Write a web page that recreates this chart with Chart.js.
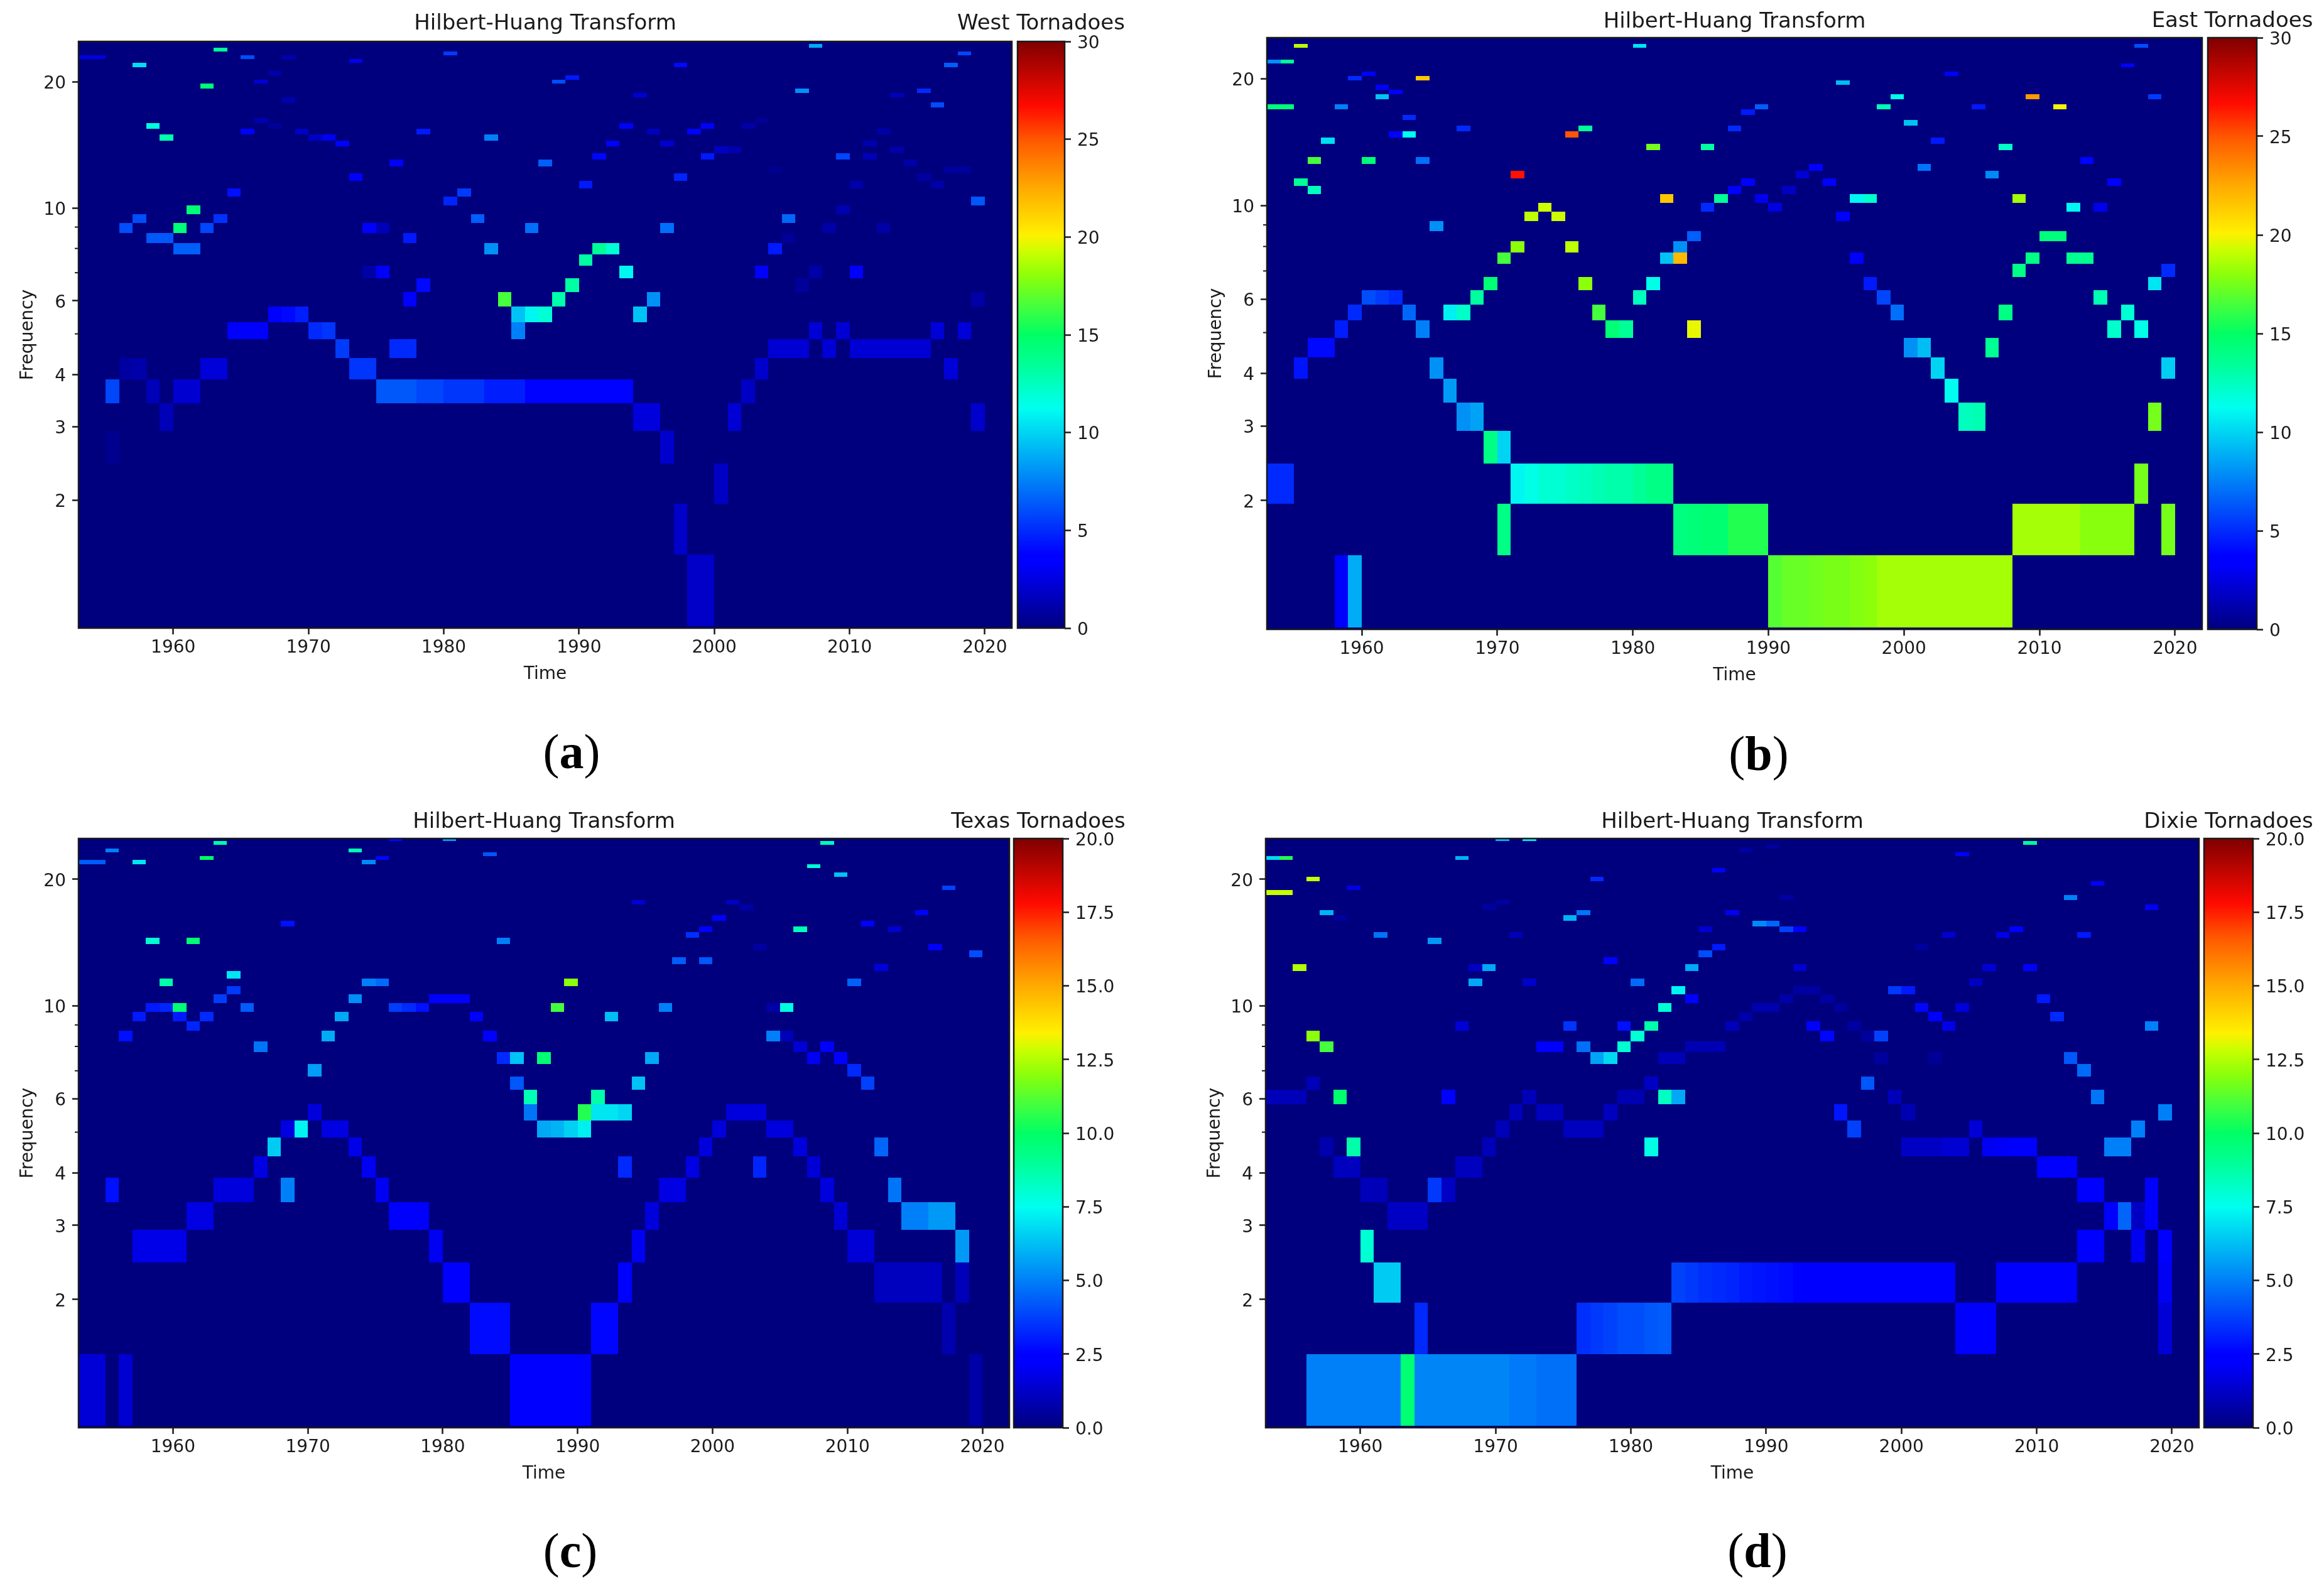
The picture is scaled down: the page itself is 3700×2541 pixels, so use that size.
<!DOCTYPE html>
<html>
<head>
<meta charset="utf-8">
<title>Hilbert-Huang Transform</title>
<script src="https://cdn.jsdelivr.net/npm/chart.js@4"></script>
<style>
    html, body { margin: 0; padding: 0; background: #fff; overflow: hidden; width: 3700px; height: 2541px; }
    canvas { position: absolute; }
    .cap { position: absolute; font-family: "Liberation Serif", serif; font-size: 78px; line-height: 78px; color: #000; transform: translate(-50%, -50%); }
</style>
</head>
<body>
<script>
// frequency bin edges, a row number in the cell lists points into this
const freqEdges = [1, 1.482, 1.964, 2.446, 2.928, 3.41, 3.892, 4.374, 4.856, 5.338, 5.82, 6.302, 6.784, 7.266, 7.748, 8.23, 8.712, 9.194, 9.676, 10.158, 10.64, 11.122, 11.604, 12.086, 12.568, 13.05, 13.532, 14.014, 14.496, 14.978, 15.46, 15.942, 16.424, 16.906, 17.388, 17.87, 18.352, 18.834, 19.316, 19.798, 20.28, 20.762, 21.244, 21.726, 22.208, 22.69, 23.172, 23.654, 24.136, 24.618, 25.1];
const yearTicks = [1960, 1970, 1980, 1990, 2000, 2010, 2020];
const freqTicks = [2, 3, 4, 6, 10, 20];
const freqMinorTicks = [5, 7, 8, 9];
const barTicks30 = [0, 5, 10, 15, 20, 25, 30];
const barTicks20 = [0, 2.5, 5, 7.5, 10, 12.5, 15, 17.5, 20];

// cells: [row, first year, end year, value]
const westCells = [
    [47,1963,1964,13.5],[48,2007,2008,8.8],[46,1980,1981,5.5],[46,2018,2019,5.8],[45,1953,1955,2.5],[45,1965,1966,6],[45,1968,1969,1.3],
    [44,1973,1974,3],[43,1957,1958,10.3],[43,1997,1998,4],[43,2017,2018,6.5],[41,1967,1968,1.2],[40,1989,1990,4.5],[39,1966,1967,2.2],[39,1988,1989,6],
    [38,1962,1963,14.5],[37,2006,2007,8],[37,2015,2016,5],[36,1994,1995,2.2],[36,2013,2014,1.5],[35,1968,1969,1.3],[34,2016,2017,6],
    [31,1966,1967,1.3],[31,2003,2004,.6],[30,1958,1959,11.8],[30,1967,1968,.7],[30,1993,1994,3.6],[30,1999,2000,3.4],[30,2002,2003,1],
    [29,1965,1966,3.5],[29,1969,1970,1.8],[29,1978,1979,4.5],[29,1995,1996,1.6],[29,1998,1999,3.6],[29,2012,2013,1.1],
    [28,1959,1960,13],[28,1970,1971,1.8],[28,1971,1972,3],[28,1983,1984,7.5],[27,1972,1973,3.5],[27,1992,1993,3.6],[27,1996,1997,2],[27,2011,2012,1.3],
    [26,2000,2001,1.8],[26,2001,2002,1.2],[26,2013,2014,1],[25,1991,1992,3.9],[25,1999,2000,4.5],[25,2009,2010,5.8],[25,2011,2012,1.5],
    [24,1976,1977,3.2],[24,1987,1988,6.5],[24,2014,2015,1],[23,2004,2005,.4],[23,2017,2019,.8],[22,1973,1974,3.4],[22,1997,1998,4.8],[22,2015,2016,.9],
    [21,1990,1991,4.5],[21,2010,2011,1.1],[21,2016,2017,1],[20,1964,1965,4.2],[20,1981,1982,5.5],[19,1980,1981,4.8],[19,2019,2020,6.3],
    [18,1961,1962,14.5],[18,2009,2010,1.3],[17,1957,1958,6],[17,1963,1964,5.2],[17,1982,1983,6.5],[17,2005,2006,6.8],
    [16,1956,1957,6],[16,1960,1961,14.5],[16,1962,1963,5.8],[16,1974,1975,3.5],[16,1975,1976,1.5],[16,1986,1987,7],[16,1996,1997,7],[16,2008,2009,1],[16,2012,2013,1],
    [15,1958,1960,6.3],[15,1977,1978,4.5],[15,2005,2006,.6],[14,1960,1962,6.5],[14,1983,1984,8],[14,1991,1992,13.5],[14,1992,1993,12],[14,2004,2005,4.5],
    [13,1990,1991,13.2],[12,1974,1975,1],[12,1975,1976,3.5],[12,1993,1994,11],[12,2003,2004,3.3],[12,2007,2008,1],[12,2010,2011,3.3],
    [11,1978,1979,4],[11,1989,1990,13.2],[11,2006,2007,.7],[10,1977,1978,3.3],[10,1984,1985,16.5],[10,1988,1989,13],[10,1995,1996,8],[10,2019,2020,1],
    [9,1967,1968,3.5],[9,1968,1969,4],[9,1969,1970,4.6],[9,1985,1986,9.5],[9,1986,1987,11],[9,1987,1988,12],[9,1994,1995,9.5],
    [8,1964,1967,3.4],[8,1970,1971,5],[8,1971,1972,5.3],[8,1985,1986,7.5],[8,2007,2008,2.2],[8,2009,2010,2.2],[8,2016,2017,2.3],[8,2018,2019,2.3],
    [7,1972,1973,5.5],[7,1976,1978,5],[7,2004,2007,2.2],[7,2008,2009,2.2],[7,2010,2016,2.2],
    [6,1956,1957,.9],[6,1957,1958,1.1],[6,1962,1964,2.3],[6,1973,1975,5.3],[6,2003,2004,2],[6,2017,2018,2.3],
    [5,1955,1956,5.8],[5,1958,1959,1.5],[5,1960,1962,2.1],[5,1975,1978,6.3],[5,1978,1980,5.8],[5,1980,1983,5.3],[5,1983,1986,4.6],[5,1986,1994,3.8],[5,2002,2003,1.8],
    [4,1959,1960,1.5],[4,1994,1996,2.4],[4,2001,2002,2.2],[4,2019,2020,2],[3,1955,1956,.4],[3,1996,1997,2],[2,2000,2001,1.8],[1,1997,1998,1.9],[0,1998,2000,1.9]
];
const eastCells = [
    [47,1955,1956,19],[47,1980,1981,10.5],[47,2017,2018,6],[43,1953,1954,8],[43,1954,1955,13.5],[42,2016,2017,3.8],[40,1960,1961,3.5],[40,2003,2004,3.6],
    [39,1959,1960,5],[39,1964,1965,21.5],[38,1995,1996,9.3],[37,1961,1962,3.3],[36,1962,1963,3.5],[35,1961,1962,9.5],[35,1999,2000,11.5],[35,2009,2010,23],[35,2018,2019,5.5],
    [33,1953,1955,14.5],[33,1958,1959,7.5],[33,1989,1990,6.5],[33,1998,1999,12.8],[33,2005,2006,4.5],[33,2011,2012,20],[32,1988,1989,4.5],
    [31,1963,1964,5],[30,2000,2001,9.5],[29,1967,1968,5],[29,1976,1977,13.5],[29,1987,1988,5],[28,1962,1963,3.5],[28,1963,1964,11.3],[28,1975,1976,25],
    [27,1957,1958,10.3],[27,2002,2003,4.5],[26,1981,1982,17.5],[26,1985,1986,13.3],[26,2007,2008,12.3],[24,1956,1957,16.5],[24,1960,1961,14.5],[24,1964,1965,7],[24,2013,2014,3.8],
    [23,1993,1994,3.3],[23,2001,2002,7.2],[22,1971,1972,26.5],[22,1992,1993,2.2],[22,2006,2007,7.8],[21,1955,1956,13.5],[21,1988,1989,3.5],[21,1994,1995,3.5],[21,2015,2016,3.5],
    [20,1956,1957,12.5],[20,1987,1988,3.5],[20,1991,1992,1.8],[19,1982,1983,21.5],[19,1986,1987,13.5],[19,1989,1990,2.8],[19,1996,1997,11],[19,1997,1998,12.2],[19,2008,2009,18.5],
    [18,1973,1974,19.3],[18,1985,1986,5],[18,1990,1991,2.5],[18,2012,2013,11],[18,2014,2015,2.8],[17,1972,1973,19],[17,1974,1975,19.3],[17,1995,1996,3.5],
    [16,1965,1966,8],[15,1984,1985,6.5],[15,2010,2012,14.3],[14,1971,1972,18],[14,1975,1976,19],[14,1983,1984,8],
    [13,1970,1971,16.5],[13,1982,1983,9.5],[13,1983,1984,22],[13,1996,1997,3.5],[13,2009,2010,14],[13,2012,2014,13.7],[12,2008,2009,14],[12,2019,2020,5],
    [11,1969,1970,14.5],[11,1976,1977,18],[11,1981,1982,11.5],[11,1997,1998,4.5],[11,2018,2019,10.5],
    [10,1960,1961,6],[10,1961,1962,5.5],[10,1962,1963,5],[10,1968,1969,13.3],[10,1980,1981,12.5],[10,1998,1999,5.8],[10,2014,2015,12.8],
    [9,1959,1960,5],[9,1963,1964,6.8],[9,1966,1967,10.8],[9,1967,1968,12.3],[9,1977,1978,16.5],[9,1999,2000,7],[9,2007,2008,14],[9,2016,2017,12],
    [8,1958,1959,4.6],[8,1964,1965,7.5],[8,1978,1979,14.5],[8,1979,1980,13.5],[8,1984,1985,19.7],[8,2015,2016,12.2],[8,2017,2018,11.5],
    [7,1956,1958,4],[7,2000,2001,8],[7,2001,2002,9.3],[7,2006,2007,13.6],[6,1955,1956,4.3],[6,1965,1966,8],[6,2002,2003,10],[6,2019,2020,9.8],
    [5,1966,1967,8.3],[5,2003,2004,11.2],[4,1967,1968,8],[4,1968,1969,8.5],[4,2004,2005,12.5],[4,2005,2006,12.8],[4,2018,2019,17.5],[3,1969,1970,14],[3,1970,1971,10],
    [2,1953,1955,5],[2,1971,1972,11],[2,1972,1973,11.5],[2,1973,1975,12],[2,1975,1976,12.3],[2,1976,1977,12.5],[2,1977,1978,12.8],[2,1978,1980,13],[2,1980,1981,13.5],[2,1981,1983,14],[2,2017,2018,17.5],
    [1,1970,1971,14],[1,1983,1984,14.2],[1,1984,1985,14.4],[1,1985,1987,14.6],[1,1987,1990,15.7],[1,2008,2013,18.5],[1,2013,2017,17.9],[1,2019,2020,17.5],
    [0,1958,1959,3.4],[0,1959,1960,8.8],[0,1990,1991,16.8],[0,1991,1993,17.2],[0,1993,1994,17.4],[0,1994,1996,17.6],[0,1996,1997,17.8],[0,1997,1998,18],[0,1998,2008,18.5]
];
const texasCells = [
    [49,1976,1977,2.6],[49,1980,1981,5.5],[48,1963,1964,8.7],[48,2008,2009,8.5],[46,1955,1956,5],[46,1973,1974,8.5],[45,1983,1984,4.2],[44,1962,1963,10],[44,1975,1976,2.6],
    [43,1953,1955,4.3],[43,1957,1958,7],[43,1974,1975,5.2],[42,2007,2008,8],[40,2009,2010,6.3],[37,2017,2018,3.8],[34,1994,1995,1.5],[34,2001,2002,1.2],[33,2002,2003,.7],[32,2015,2016,2.4],
    [31,2000,2001,2.3],[30,1968,1969,2.8],[30,2011,2012,2.4],[29,1999,2000,2.5],[29,2006,2007,8.5],[29,2013,2014,1.4],[28,1998,1999,3.4],
    [27,1958,1959,8],[27,1961,1962,9.7],[27,1984,1985,5],[26,2003,2004,.6],[26,2016,2017,2.4],[25,2019,2020,4],[24,1997,1998,4.3],[24,1999,2000,4.2],[23,2012,2013,1.6],
    [22,1964,1965,7],[21,1959,1960,8.7],[21,1974,1975,5],[21,1975,1976,4.6],[21,1989,1990,12],[21,2010,2011,4.4],[20,1964,1965,3.6],[19,1963,1964,3.7],[19,1973,1974,5.3],[19,1979,1982,2.4],
    [18,1958,1959,3],[18,1959,1960,3.2],[18,1960,1961,9.7],[18,1965,1966,4.3],[18,1976,1977,3.7],[18,1977,1978,3.3],[18,1978,1979,2.8],[18,1988,1989,11],[18,1996,1997,5],[18,2004,2005,.7],[18,2005,2006,7.8],
    [17,1957,1958,3],[17,1960,1961,3],[17,1962,1963,3.3],[17,1972,1973,5.8],[17,1982,1983,2.5],[17,1992,1993,6.2],[16,1961,1962,3.2],
    [15,1956,1957,2.8],[15,1971,1972,5.9],[15,1983,1984,2.5],[15,2004,2005,5],[15,2005,2006,1],[14,1966,1967,4.8],[14,2006,2007,1.5],[14,2008,2009,2.3],
    [13,1984,1985,3.3],[13,1985,1986,6.3],[13,1987,1988,9.7],[13,1995,1996,5.8],[13,2007,2008,2],[13,2009,2010,2.5],[12,1970,1971,5.6],[12,2010,2011,3.3],
    [11,1985,1986,4.2],[11,1994,1995,6.3],[11,2011,2012,3.8],[10,1986,1987,8.5],[10,1991,1992,8.7],
    [9,1970,1971,1.6],[9,1986,1987,4.8],[9,1990,1991,10.5],[9,1991,1993,7],[9,1993,1994,6.7],[9,2001,2004,1.6],
    [8,1968,1969,1.7],[8,1969,1970,7.3],[8,1971,1973,1.7],[8,1987,1988,5.8],[8,1988,1989,6],[8,1989,1990,6.6],[8,1990,1991,7.2],[8,2000,2001,1.6],[8,2004,2006,1.6],
    [7,1967,1968,6.5],[7,1973,1974,1.8],[7,1999,2000,1.6],[7,2006,2007,1.6],[7,2012,2013,4.5],[6,1966,1967,1.7],[6,1974,1975,2],[6,1993,1994,3.3],[6,1998,1999,1.7],[6,2003,2004,3.2],[6,2007,2008,1.5],
    [5,1955,1956,2.8],[5,1963,1966,1.6],[5,1968,1969,5],[5,1975,1976,2],[5,1996,1998,1.7],[5,2008,2009,1.6],[5,2013,2014,4.8],
    [4,1961,1963,1.7],[4,1976,1979,2.5],[4,1995,1996,1.6],[4,2009,2010,1.5],[4,2014,2016,5],[4,2016,2018,5.5],
    [3,1957,1961,1.8],[3,1979,1980,2],[3,1994,1995,2],[3,2010,2012,1.5],[3,2018,2019,5.5],[2,1980,1982,2.5],[2,1993,1994,2.3],[2,2012,2017,1.1],[2,2018,2019,1],
    [1,1982,1985,2.7],[1,1991,1993,2.6],[1,2017,2018,.8],[0,1953,1955,1.5],[0,1956,1957,1.4],[0,1985,1991,2.3],[0,2019,2020,.7]
];
const dixieCells = [
    [49,1970,1971,6],[49,1972,1973,7],[48,2009,2010,9],[47,1990,1991,.6],[46,1988,1989,.7],[45,2004,2005,2.3],[44,1953,1954,6.8],[44,1954,1955,10.5],[44,1967,1968,6],
    [41,1986,1987,2.5],[39,1956,1957,12.8],[39,1977,1978,3.3],[38,2014,2015,2.4],[37,1959,1960,1.8],[36,1953,1955,12.8],[35,1991,1992,.6],[35,2012,2013,5],[34,1970,1971,.6],[33,1969,1970,.6],[33,2018,2019,2],
    [32,1957,1958,6],[32,1976,1977,4.8],[32,1987,1988,2],[31,1958,1959,.5],[31,1975,1976,6],[30,1989,1990,5.2],[30,1990,1991,4.5],[29,1985,1986,1.4],[29,1991,1992,3.8],[29,1992,1993,2.5],[29,2008,2009,2.4],
    [28,1961,1962,4.8],[28,1971,1972,1],[28,2003,2004,1.4],[28,2007,2008,1.8],[28,2013,2014,3],[27,1965,1966,5.5],[26,1986,1987,3],[26,2001,2002,.5],[25,1985,1986,4],
    [24,1978,1979,2.4],[23,1955,1956,12.5],[23,1968,1969,1.2],[23,1969,1970,5.8],[23,1984,1985,5.8],[23,1992,1993,1.4],[23,2006,2007,1.5],[23,2009,2010,2.5],
    [21,1968,1969,5.8],[21,1972,1973,1.3],[21,1980,1981,4.6],[21,2005,2006,1.2],[20,1983,1984,7.3],[20,1992,1994,.6],[20,1999,2000,3.6],[20,2000,2001,3],
    [19,1984,1985,2.4],[19,1991,1992,.7],[19,1994,1995,.6],[19,2010,2011,3],[18,1982,1983,8],[18,1989,1991,.8],[18,1995,1996,.5],[18,2001,2002,2.6],[18,2004,2005,1.6],
    [17,1988,1989,.7],[17,2002,2003,2.5],[17,2011,2012,3.3],[16,1967,1968,1.5],[16,1975,1976,3.5],[16,1979,1980,2.8],[16,1981,1982,8.7],[16,1987,1988,1],[16,1993,1994,2.4],[16,1996,1997,.6],[16,2003,2004,1.8],[16,2018,2019,5],
    [15,1956,1957,12],[15,1980,1981,8],[15,1994,1995,2.6],[15,1997,1998,.5],[15,1998,1999,3.8],[14,1957,1958,11],[14,1973,1975,2.3],[14,1976,1977,4.7],[14,1979,1980,8],[14,1984,1987,.9],
    [13,1977,1978,5.7],[13,1978,1979,6.8],[13,1982,1984,1],[13,1998,1999,.5],[13,2002,2003,.4],[13,2012,2013,4.2],[12,2013,2014,4.6],[11,1956,1957,1],[11,1981,1982,1.2],[11,1997,1998,4.2],
    [10,1953,1956,1],[10,1958,1959,9.8],[10,1966,1967,2.2],[10,1972,1973,1],[10,1979,1981,.9],[10,1982,1983,8.3],[10,1983,1984,5.8],[10,1999,2000,1],[10,2014,2015,4.8],
    [9,1971,1972,1],[9,1973,1975,1.1],[9,1978,1979,1.1],[9,1995,1996,2.9],[9,2000,2001,.9],[9,2019,2020,5],[8,1970,1971,1],[8,1975,1978,1.1],[8,1996,1997,3.8],[8,2005,2006,1.5],[8,2017,2018,5],
    [7,1957,1958,.8],[7,1959,1960,8.7],[7,1969,1970,1],[7,1981,1982,7.7],[7,2000,2003,1.2],[7,2003,2005,1.4],[7,2006,2007,2],[7,2007,2008,2.1],[7,2008,2009,2.3],[7,2009,2010,2.4],[7,2015,2017,5],
    [6,1958,1960,1.1],[6,1967,1969,1.1],[6,2010,2013,2.4],[5,1960,1962,1],[5,1965,1966,3.6],[5,1966,1967,1.2],[5,2013,2015,2.3],[5,2018,2019,2.3],
    [4,1962,1965,1.2],[4,2015,2016,2.3],[4,2016,2017,4.5],[4,2017,2018,1.2],[4,2018,2019,2.2],[3,1960,1961,8],[3,2013,2015,2.3],[3,2017,2018,2],[3,2019,2020,2.2],
    [2,1961,1963,6.5],[2,1983,1984,3.8],[2,1984,1985,3.6],[2,1985,1986,3.4],[2,1986,1987,3.3],[2,1987,1988,3.2],[2,1988,1989,3],[2,1989,1990,2.9],[2,1990,1991,2.8],[2,1991,1992,2.7],[2,1992,2004,2.4],[2,2007,2013,2.5],[2,2019,2020,2],
    [1,1964,1965,3.3],[1,1976,1977,3.4],[1,1977,1978,3.6],[1,1978,1979,3.8],[1,1979,1981,4],[1,1981,1982,4.2],[1,1982,1983,4.3],[1,2004,2007,2.5],[1,2019,2020,1.5],
    [0,1956,1963,5],[0,1963,1964,9.7],[0,1964,1971,5.1],[0,1971,1973,4.9],[0,1973,1976,4.7]
];

// jet as it looks in the picture, a bit more saturated than the stock one
const jetStops = [
    [0, 0, 0, 127], [.11, 0, 0, 255], [.125, 0, 0, 255], [.375, 0, 255, 240], [.45, 0, 255, 150], [.5, 0, 255, 100],
    [.55, 70, 255, 60], [.6, 140, 255, 10], [.64, 200, 255, 0], [.67, 255, 240, 0], [.75, 255, 170, 0], [.83, 255, 90, 0], [.89, 255, 10, 0], [1, 127, 0, 0]
];

function jetColor(t) {
    t = Math.min(1, Math.max(0, t));
    for (let i = 1; i < jetStops.length; i++) {
        const a = jetStops[i - 1], b = jetStops[i];
        if (t <= b[0]) {
            const k = (t - a[0]) / (b[0] - a[0]);
            return `rgb(${a[1] + (b[1] - a[1]) * k}, ${a[2] + (b[2] - a[2]) * k}, ${a[3] + (b[3] - a[3]) * k})`;
        }
    }
    return 'rgb(127, 0, 0)';
}

const inkColor = '#1a1a1a';
const fontFamily = '"DejaVu Sans", sans-serif';

// fills the plot and draws each cell through the scales
const heatCells = {
    id: 'heatCells',
    beforeDatasetsDraw(chart, args, opts) {
        const { ctx, chartArea: area, scales } = chart;
        ctx.save();
        ctx.beginPath();
        ctx.rect(area.left, area.top, area.width, area.height);
        ctx.clip();
        ctx.fillStyle = jetColor(0);
        ctx.fillRect(area.left, area.top, area.width, area.height);
        chart.data.datasets[0].data.forEach(c => {
            const x0 = Math.round(scales.x.getPixelForValue(c.x));
            const x1 = Math.round(scales.x.getPixelForValue(c.x2));
            const y0 = Math.round(scales.y.getPixelForValue(c.y2));
            const y1 = Math.round(scales.y.getPixelForValue(c.y));
            ctx.fillStyle = jetColor(c.v / opts.vmax);
            ctx.fillRect(x0, y0, x1 - x0, y1 - y0);
        });
        ctx.restore();
    }
};

// colour bar gradient, stops placed by the value scale
const barGradient = {
    id: 'barGradient',
    beforeDatasetsDraw(chart, args, opts) {
        const { ctx, chartArea: area, scales } = chart;
        const grad = ctx.createLinearGradient(0, scales.y.getPixelForValue(0), 0, scales.y.getPixelForValue(opts.vmax));
        jetStops.forEach(s => grad.addColorStop(s[0], `rgb(${s[1]}, ${s[2]}, ${s[3]})`));
        ctx.fillStyle = grad;
        ctx.fillRect(area.left, area.top, area.width, area.height);
    }
};

const frameBox = {
    id: 'frameBox',
    afterDraw(chart) {
        const { ctx, chartArea: area, scales } = chart;
        ctx.save();
        ctx.strokeStyle = inkColor;
        ctx.lineWidth = 2.5;
        ctx.strokeRect(area.left, area.top, area.width, area.height);
        if (scales.y.type === 'logarithmic') {
            ctx.lineWidth = 2;
            freqMinorTicks.forEach(f => {
                const y = scales.y.getPixelForValue(f);
                ctx.beginPath();
                ctx.moveTo(area.left - 6, y);
                ctx.lineTo(area.left, y);
                ctx.stroke();
            });
        }
        ctx.restore();
    }
};

function makeCanvas(left, top, width, height) {
    const canvas = document.createElement('canvas');
    canvas.width = width;
    canvas.height = height;
    canvas.style.left = left + 'px';
    canvas.style.top = top + 'px';
    canvas.style.width = width + 'px';
    canvas.style.height = height + 'px';
    document.body.appendChild(canvas);
    return canvas;
}

function tickOptions() {
    return { color: inkColor, font: { family: fontFamily, size: 28 }, maxRotation: 0, autoSkip: false };
}

function gridOptions() {
    return { display: true, drawOnChartArea: false, drawTicks: true, tickLength: 10, tickWidth: 2.5, tickColor: inkColor };
}

function drawPanel(p) {
    const axisW = 94, axisH = 88, titleH = 34;
    const top = p.titleY - titleH / 2;
    const canvas = makeCanvas(p.left - axisW, top, axisW + p.right - p.left + 4, p.bottom - top + axisH);
    const cells = p.cells.map(c => ({ x: c[1], x2: c[2], y: freqEdges[c[0]], y2: freqEdges[c[0] + 1], v: c[3] }));
    new Chart(canvas.getContext('2d'), {
        type: 'scatter',
        data: { datasets: [{ data: cells, pointRadius: 0 }] },
        plugins: [heatCells, frameBox],
        options: {
            responsive: false,
            animation: false,
            devicePixelRatio: 1,
            events: [],
            layout: { autoPadding: false, padding: { left: 0, top: 0, right: 4, bottom: 0 } },
            plugins: {
                legend: { display: false },
                tooltip: { enabled: false },
                heatCells: { vmax: p.vmax },
                title: {
                    display: true,
                    text: 'Hilbert-Huang Transform',
                    fullSize: false,
                    color: inkColor,
                    font: { family: fontFamily, size: titleH, weight: 'normal', lineHeight: 1 },
                    padding: { top: 0, bottom: p.top - p.titleY - titleH / 2 }
                }
            },
            scales: {
                x: {
                    type: 'linear',
                    min: 1953,
                    max: 2022,
                    grid: gridOptions(),
                    border: { display: false },
                    title: { display: true, text: 'Time', color: inkColor, font: { family: fontFamily, size: 28, lineHeight: 1 }, padding: 0 },
                    ticks: Object.assign(tickOptions(), { padding: 5, callback: v => String(v) }),
                    afterBuildTicks: axis => { axis.ticks = yearTicks.map(v => ({ value: v })); },
                    afterFit: axis => { axis.height = axisH; }
                },
                y: {
                    type: 'logarithmic',
                    min: 0.99,
                    max: 25,
                    grid: gridOptions(),
                    border: { display: false },
                    title: { display: true, text: 'Frequency', color: inkColor, font: { family: fontFamily, size: 28, lineHeight: 1 }, padding: 0 },
                    ticks: Object.assign(tickOptions(), { padding: 10, labelOffset: 3.5, callback: v => String(v) }),
                    afterBuildTicks: axis => { axis.ticks = freqTicks.map(v => ({ value: v })); },
                    afterFit: axis => { axis.width = axisW; }
                }
            }
        }
    });
}

function drawBar(p) {
    const side = 170, bottomPad = 30, titleH = 34;
    const top = p.barTitleY - titleH / 2;
    const canvas = makeCanvas(p.barLeft - side, top, side * 2 + p.barRight - p.barLeft, p.bottom - top + bottomPad);
    new Chart(canvas.getContext('2d'), {
        type: 'scatter',
        data: { datasets: [{ data: [], pointRadius: 0 }] },
        plugins: [barGradient, frameBox],
        options: {
            responsive: false,
            animation: false,
            devicePixelRatio: 1,
            events: [],
            layout: { autoPadding: false, padding: { left: 0, top: 0, right: 0, bottom: bottomPad } },
            plugins: {
                legend: { display: false },
                tooltip: { enabled: false },
                barGradient: { vmax: p.vmax },
                title: {
                    display: true,
                    text: p.name,
                    color: inkColor,
                    font: { family: fontFamily, size: titleH, weight: 'normal', lineHeight: 1 },
                    padding: { top: 0, bottom: p.top - p.barTitleY - titleH / 2 }
                }
            },
            scales: {
                x: { type: 'linear', display: false, min: 0, max: 1 },
                // empty axis on the left so the title stays centred over the bar
                spacer: {
                    type: 'linear',
                    position: 'left',
                    grid: { display: false },
                    border: { display: false },
                    ticks: { display: false },
                    afterFit: axis => { axis.width = side; }
                },
                y: {
                    type: 'linear',
                    position: 'right',
                    min: 0,
                    max: p.vmax,
                    grid: gridOptions(),
                    border: { display: false },
                    ticks: Object.assign(tickOptions(), { padding: 10, labelOffset: 3.5, callback: v => p.barLabels(v) }),
                    afterBuildTicks: axis => { axis.ticks = p.barTicks.map(v => ({ value: v })); },
                    afterFit: axis => { axis.width = side; }
                }
            }
        }
    });
}

const panels = [
    { name: 'West Tornadoes', cells: westCells, vmax: 30, barTicks: barTicks30, barLabels: v => String(v), left: 125, right: 1611, top: 66, bottom: 1000, barLeft: 1620, barRight: 1695, titleY: 38, barTitleY: 38 },
    { name: 'East Tornadoes', cells: eastCells, vmax: 30, barTicks: barTicks30, barLabels: v => String(v), left: 2017, right: 3506, top: 60, bottom: 1002, barLeft: 3515, barRight: 3593, titleY: 35, barTitleY: 34 },
    { name: 'Texas Tornadoes', cells: texasCells, vmax: 20, barTicks: barTicks20, barLabels: v => v.toFixed(1), left: 125, right: 1607, top: 1335, bottom: 2273, barLeft: 1614, barRight: 1692, titleY: 1309, barTitleY: 1309 },
    { name: 'Dixie Tornadoes', cells: dixieCells, vmax: 20, barTicks: barTicks20, barLabels: v => v.toFixed(1), left: 2015, right: 3501, top: 1335, bottom: 2273, barLeft: 3509, barRight: 3587, titleY: 1309, barTitleY: 1309 }
];

panels.forEach(p => {
    drawPanel(p);
    drawBar(p);
});

const captions = [['a', 910, 1197], ['b', 2800, 1200], ['c', 908, 2469], ['d', 2798, 2469]];
captions.forEach(c => {
    const cap = document.createElement('div');
    cap.className = 'cap';
    cap.style.left = c[1] + 'px';
    cap.style.top = c[2] + 'px';
    cap.innerHTML = `(<b>${c[0]}</b>)`;
    document.body.appendChild(cap);
});
</script>
</body>
</html>
